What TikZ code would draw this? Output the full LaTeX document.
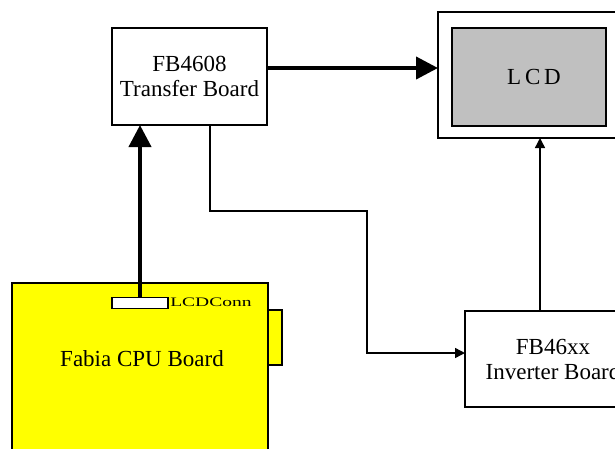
\documentclass[tikz,border=0pt]{standalone}
\usepackage{fontspec}
\setmainfont{Liberation Serif}
\usetikzlibrary{arrows.meta}
\definecolor{cpuyellow}{RGB}{255,255,0}
\definecolor{lcdgray}{RGB}{192,192,192}
\begin{document}
\begin{tikzpicture}[x=1pt,y=-1pt,
  board/.style={draw=black,line width=2pt,outer sep=0pt},
  bigtxt/.style={font=\fontsize{23}{25}\selectfont,align=center},
  thickarrow/.style={line width=4pt,-{Triangle[length=22pt,width=22pt]}},
  thinarrow/.style={line width=1.4pt,-{Triangle[length=10pt,width=10pt]}}]
\useasboundingbox (0,0) rectangle (615,448);
\fill[white] (0,0) rectangle (615,448);
\begin{scope}
\clip (0,0) rectangle (615,448);
% Transfer board
\node[board,minimum width=155pt,minimum height=97pt,inner sep=0pt] (tb) at (189.5,76.5) {};
\node[bigtxt] (tbt) at (189.5,76) {FB4608\\Transfer Board};
% LCD
\node[board,minimum width=190pt,minimum height=126pt,inner sep=0pt] (lcdo) at (533,75) {};
\node[board,fill=lcdgray,minimum width=154pt,minimum height=98pt,inner sep=0pt] (lcdi) at (529,77) {};
\node[font=\fontsize{23}{25}\selectfont] (lcdt) at (534,77) {L\,C\,D};
% CPU board
\node[board,fill=cpuyellow,minimum width=256pt,minimum height=180pt,inner sep=0pt,anchor=north west] (cpu) at (12,283) {};
\node[board,fill=cpuyellow,minimum width=14pt,minimum height=55pt,inner sep=0pt,anchor=west] (tab) at (cpu.east |- 0,337) {};
\node[draw=black,line width=1.6pt,fill=white,outer sep=0pt,minimum width=56pt,minimum height=11pt,inner sep=0pt] (conn) at (140,303) {};
\node[font=\fontsize{13}{14}\selectfont,xscale=1.5,transform shape,anchor=west,inner sep=0pt] (connt) at (170,302.5) {LCDConn};
\node[bigtxt] (cput) at (142,359) {Fabia CPU Board};
% Inverter board
\node[board,minimum width=176pt,minimum height=96pt,inner sep=0pt,anchor=north west] (inv) at (465,311) {};
\node[bigtxt] (invt) at (553,359) {FB46xx\\Inverter Board};
% connectors
\draw[thickarrow] (tb.east |- 0,68) -- (lcdo.west |- 0,68);
\draw[thickarrow] (conn.north) -- (conn.north |- tb.south);
\coordinate (c1) at (210,211);
\coordinate (c2) at (367,211);
\coordinate (c3) at (367,353);
\draw[thinarrow] (tb.south -| 210,0) -- (c1) -- (c2) -- (c3) -- (inv.west |- c3);
\draw[thinarrow] (inv.north -| 540,0) -- (lcdo.south -| 540,0);
\end{scope}
\end{tikzpicture}
\end{document}
